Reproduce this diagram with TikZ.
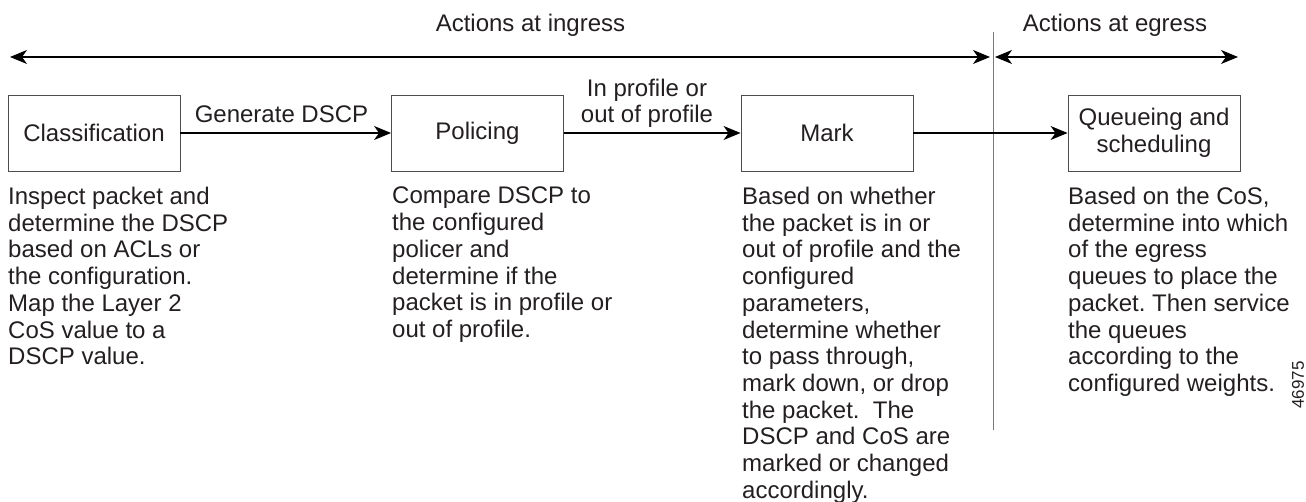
\documentclass[tikz,border=0pt]{standalone}
\usepackage{fontspec}
\setmainfont{Liberation Sans}
\usetikzlibrary{arrows.meta}
\definecolor{txt}{HTML}{231F20}
\definecolor{boxc}{HTML}{4D4D4D}
\definecolor{divc}{HTML}{7A7A7A}
\frenchspacing
\begin{document}
\begin{tikzpicture}[x=1pt,y=-1pt,
  mainfont/.style={font=\fontsize{24}{26.7}\selectfont, text=txt},
  stepbox/.style={mainfont, draw=boxc, line width=0.9pt, minimum width=172pt, minimum height=76pt, inner sep=0pt, align=center},
  desc/.style={mainfont, anchor=north west, inner sep=0pt, align=left},
  lbl/.style={mainfont, inner sep=0pt, align=center},
  arr/.style={line width=1.1pt, -{Stealth[length=17pt,width=14pt,inset=5pt]}},
  dbl/.style={line width=1.1pt, {Stealth[length=17pt,width=14pt,inset=5pt]}-{Stealth[length=17pt,width=14pt,inset=5pt]}},
  divider/.style={draw=divc, line width=0.9pt}]
\useasboundingbox (0,0) rectangle (1306,502);

% section labels
\node[lbl, anchor=base] (ingress) at (530.5,32) {Actions at ingress};
\node[lbl, anchor=base] (egress) at (1115,32) {Actions at egress};

% span arrows and divider
\coordinate (inL) at (10,57);
\coordinate (inR) at (990,57);
\coordinate (egL) at (995,57);
\coordinate (egR) at (1238,57);
\coordinate (vtop) at (993,32);
\coordinate (vbot) at (993,430);
\draw[divider] (vtop) -- (vbot);
\draw[dbl] (inL) -- (inR);
\draw[dbl] (egL) -- (egR);

% boxes
\node[stepbox] (cls) at (94,133) {Classification};
\node[stepbox] (pol) at (477.5,133) {Policing};
\node[stepbox] (mark) at (827,133) {Mark};
\node[stepbox] (queue) at (1154,133) {Queueing and\\scheduling};

% connectors
\draw[arr] (cls) -- (pol);
\draw[arr] (pol) -- (mark);
\draw[arr] (mark) -- (queue);

% connector labels
\node[lbl, anchor=base] (gen) at (281.5,123) {Generate DSCP};
\node[lbl, anchor=south] (prof) at (647,128) {In profile or\\out of profile};

% descriptions
\node[desc] (dcls) at (8,187) {Inspect packet and\\determine the DSCP\\based on ACLs or\\the configuration.\\Map the Layer 2\\CoS value to a\\DSCP value.};
\node[desc] (dpol) at (392,187) {Compare DSCP to\\the configured\\policer and\\determine if the\\packet is in profile or\\out of profile.};
\node[desc] (dmark) at (742,187) {Based on whether\\the packet is in or\\out of profile and the\\configured\\parameters,\\determine whether\\to pass through,\\mark down, or drop\\the packet.~ The\\DSCP and CoS are\\marked or changed\\accordingly.};
\node[desc] (dqueue) at (1068,187) {Based on the CoS,\\determine into which\\of the egress\\queues to place the\\packet. Then service\\the queues\\according to the\\configured weights.};

% figure number
\node[mainfont, font=\fontsize{17}{17}\selectfont, rotate=90, inner sep=0pt] (fignum) at (1298,385) {46975};
\end{tikzpicture}
\end{document}
